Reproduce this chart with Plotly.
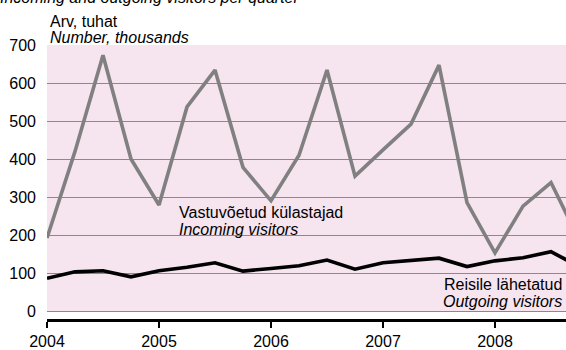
import plotly.graph_objects as go

# Quarterly positions (year + quarter offset)
years = [2004, 2005, 2006, 2007, 2008]
quarters = [y + q / 4 for y in years for q in range(4)]

# Visitors, thousands
incoming = [192, 420, 673, 400,
            279, 537, 634, 378,
            290, 410, 634, 355,
            424, 492, 647, 285,
            153, 276, 338, 188]
outgoing = [86, 103, 106, 90,
            106, 115, 127, 105,
            112, 119, 134, 110,
            127, 132, 139, 117,
            132, 140, 156, 117]

y_ticks = [0, 100, 200, 300, 400, 500, 600, 700]
x_tick_labels = [str(y) for y in years]

FONT = "Liberation Sans, Arial, sans-serif"
W, H = 566, 350
L, T, B = 47, 45, 31          # plot margins in px
PW, PH = W - L, H - T - B

def px(x):
    return (x - L) / PW

def py(y):
    return (H - B - y) / PH

fig = go.Figure()

# pink panel behind the grid (0..700 only)
fig.add_shape(type="rect", xref="paper", yref="y", x0=0, x1=1, y0=0, y1=700,
              fillcolor="#f6e4ef", line_width=0, layer="below")

fig.add_trace(go.Scatter(x=quarters, y=incoming, mode="lines",
                         line=dict(color="#808080", width=3.6),
                         hoverinfo="skip", showlegend=False))
fig.add_trace(go.Scatter(x=quarters, y=outgoing, mode="lines",
                         line=dict(color="#000000", width=3.6),
                         hoverinfo="skip", showlegend=False))

def label(text, x, y, anchor="left", italic=False):
    fig.add_annotation(text=f"<i>{text}</i>" if italic else text,
                       xref="paper", yref="paper", x=px(x), y=py(y),
                       xanchor=anchor, yanchor="middle", showarrow=False,
                       font=dict(family=FONT, size=16, color="#000000"))

label("Incoming and outgoing visitors per quarter", -2, -3, italic=True)
label("Arv, tuhat", 48, 21)
label("Number, thousands", 48, 37, italic=True)
label("Vastuvõetud külastajad", 177, 213)
label("Incoming visitors", 177, 229, italic=True)
label("Reisile lähetatud", 564, 284, anchor="right")
label("Outgoing visitors", 564, 301, anchor="right", italic=True)

fig.update_layout(
    width=W, height=H,
    margin=dict(l=L, r=0, t=T, b=B, pad=0),
    paper_bgcolor="white", plot_bgcolor="white",
    font=dict(family=FONT, size=16, color="#000000"),
    xaxis=dict(range=[2004, 2004 + PW / 112 * 1.0],
               tickvals=years, ticktext=x_tick_labels,
               showgrid=False, zeroline=False,
               showline=True, linecolor="#000000", linewidth=3,
               ticks="outside", ticklen=6, tickwidth=1.5, tickcolor="#000000",
               tickfont=dict(size=16)),
    yaxis=dict(range=[-21.05, 700], tickvals=y_ticks,
               showgrid=True, gridcolor="#8a8a8a", gridwidth=1,
               zeroline=False, showline=False, ticks="",
               ticklabelstandoff=10, tickfont=dict(size=16)),
)

fig.write_html("out.html")
